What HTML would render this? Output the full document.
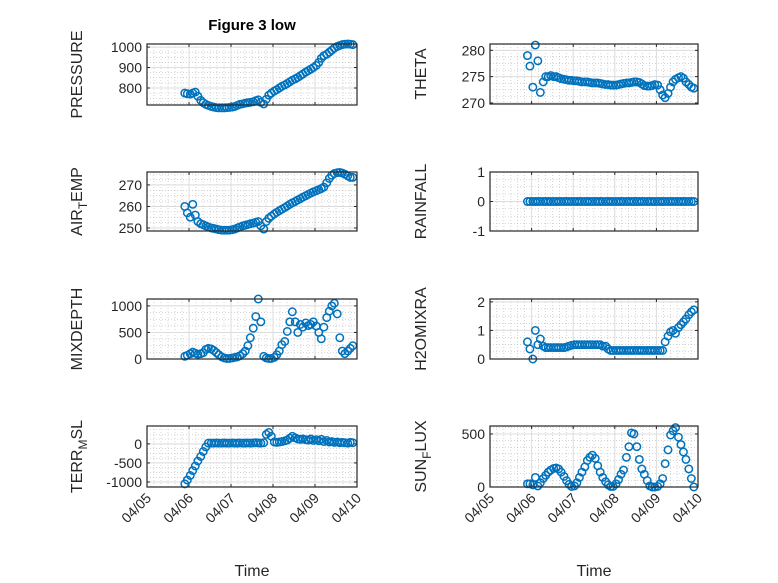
<!DOCTYPE html>
<html><head><meta charset="utf-8"><style>
html,body{margin:0;padding:0;background:#fff}
svg{display:block;font-family:"Liberation Sans","DejaVu Sans",sans-serif}
</style></head><body>
<svg id="fig" width="778" height="583" viewBox="0 0 778 583">
<rect width="778" height="583" fill="#fff"/>
<text x="252" y="30" text-anchor="middle" font-size="15" font-weight="bold" fill="#000">Figure 3 low</text>
<text x="252" y="576" text-anchor="middle" font-size="16" fill="#262626">Time</text>
<text x="594" y="576" text-anchor="middle" font-size="16" fill="#262626">Time</text>
</svg>
<script>
const times=[0.90,0.96,1.03,1.09,1.15,1.21,1.28,1.34,1.40,1.46,1.53,1.59,1.65,1.71,1.78,1.84,1.90,1.96,2.03,2.09,2.15,2.21,2.28,2.34,2.40,2.46,2.53,2.59,2.65,2.71,2.78,2.84,2.90,2.96,3.03,3.09,3.15,3.21,3.28,3.34,3.40,3.46,3.53,3.59,3.65,3.71,3.78,3.84,3.90,3.96,4.03,4.09,4.15,4.21,4.28,4.34,4.40,4.46,4.53,4.59,4.65,4.71,4.78,4.84,4.90];
const pressure=[775,772,770,775,780,760,740,728,720,715,710,707,704,703,703,703,704,705,707,710,715,720,723,726,728,730,733,738,742,730,722,745,765,775,785,792,800,808,815,822,830,838,845,852,860,868,878,885,892,900,910,925,945,958,965,975,985,995,1003,1008,1012,1014,1015,1014,1012];
const airTemp=[260,257,255,261,256,253,252,251.5,251,250.5,250,249.8,249.5,249.2,249,249,249,249,249.2,249.5,250,250.5,251,251.3,251.6,252,252.3,252.6,253,251,249.5,253,254.5,255.5,256.5,257.3,258,258.7,259.5,260.2,261,261.7,262.3,263,263.6,264.3,265,265.6,266.2,266.8,267.3,267.8,268.3,269,271,273,274.5,275.3,275.7,275.8,275.5,275,274.2,273.5,273.5];
const mixDepth=[50,70,100,130,110,90,100,120,180,200,190,160,120,80,40,20,10,10,20,30,40,60,100,150,250,400,580,800,1130,700,50,20,10,10,30,80,150,270,330,520,700,890,700,500,650,600,680,630,650,700,620,500,380,600,780,900,1000,1050,850,400,150,100,150,200,250];
const terrMsl=[-1050,-950,-830,-700,-580,-450,-330,-200,-80,20,20,20,25,20,20,25,20,20,25,20,20,25,20,20,25,20,25,30,25,20,30,250,300,200,50,40,50,60,80,100,150,200,160,130,120,130,110,100,130,90,110,80,120,60,90,50,60,40,50,30,40,30,20,40,30];
const theta=[279,277,273,281,278,272,274,275,275,275.2,275,275,274.8,274.6,274.5,274.4,274.3,274.3,274.2,274.2,274.1,274,274,274,273.9,273.8,273.8,273.8,273.7,273.6,273.5,273.5,273.4,273.4,273.4,273.5,273.6,273.7,273.8,273.8,273.9,274,274,273.9,273.6,273.3,273.2,273.2,273.3,273.5,273.4,272.5,271.5,271,271.8,273,274,274.5,274.8,275,274.7,274,273.5,273,272.8];
const rainfall=[0,0,0,0,0,0,0,0,0,0,0,0,0,0,0,0,0,0,0,0,0,0,0,0,0,0,0,0,0,0,0,0,0,0,0,0,0,0,0,0,0,0,0,0,0,0,0,0,0,0,0,0,0,0,0,0,0,0,0,0,0,0,0,0,0];
const h2oMix=[0.6,0.35,0,1.0,0.5,0.7,0.45,0.4,0.4,0.4,0.4,0.4,0.4,0.4,0.4,0.42,0.45,0.48,0.5,0.5,0.5,0.5,0.5,0.5,0.5,0.5,0.5,0.5,0.5,0.45,0.45,0.35,0.3,0.3,0.3,0.3,0.3,0.3,0.3,0.3,0.3,0.3,0.3,0.3,0.3,0.3,0.3,0.3,0.3,0.3,0.3,0.3,0.3,0.6,0.8,0.95,1.0,0.9,1.1,1.2,1.3,1.4,1.55,1.65,1.72];
const sunFlux=[30,30,20,90,10,40,80,110,140,160,175,180,170,140,100,60,25,5,10,40,90,140,190,250,280,300,270,200,140,90,50,20,5,5,30,70,120,160,280,380,510,500,380,260,170,120,60,10,0,0,5,30,80,220,350,490,530,560,470,400,330,260,170,80,0];
const xTickLabels=["04/05","04/06","04/07","04/08","04/09","04/10"];
const pressureTicks=[800,900,1000], airTicks=[250,260,270], mixTicks=[0,500,1000], terrTicks=[-1000,-500,0];
const thetaTicks=[270,275,280], rainTicks=[-1,0,1], h2oTicks=[0,1,2], sunTicks=[0,500];

const NS="http://www.w3.org/2000/svg";
const svg=document.getElementById('fig');
function mk(tag,attrs,parent){const e=document.createElementNS(NS,tag);for(const k in attrs)e.setAttribute(k,attrs[k]);(parent||svg).appendChild(e);return e;}

const panels=[
 {id:'pressure',label:['PRESSURE'],x0:147,x1:357,y0:44,y1:105,ymin:717,ymax:1015,ticks:pressureTicks,minor:25,vals:pressure},
 {id:'air-temp',label:['AIR','T','EMP'],x0:147,x1:357,y0:172,y1:231,ymin:248.6,ymax:276,ticks:airTicks,minor:2.5,vals:airTemp},
 {id:'mixdepth',label:['MIXDEPTH'],x0:147,x1:357,y0:299,y1:359,ymin:0,ymax:1130,ticks:mixTicks,minor:125,vals:mixDepth},
 {id:'terr-msl',label:['TERR','M','SL'],x0:147,x1:357,y0:426,y1:487,ymin:-1132,ymax:470,ticks:terrTicks,minor:125,vals:terrMsl},
 {id:'theta',label:['THETA'],x0:490,x1:698,y0:44,y1:104,ymin:269.8,ymax:281.2,ticks:thetaTicks,minor:1.25,vals:theta},
 {id:'rainfall',label:['RAINFALL'],x0:490,x1:698,y0:172,y1:231,ymin:-1,ymax:1,ticks:rainTicks,minor:0.25,vals:rainfall},
 {id:'h2omixra',label:['H2OMIXRA'],x0:490,x1:698,y0:299,y1:359,ymin:0,ymax:2.1,ticks:h2oTicks,minor:0.25,vals:h2oMix},
 {id:'sun-flux',label:['SUN','F','LUX'],x0:490,x1:698,y0:426,y1:487,ymin:0,ymax:575,ticks:sunTicks,minor:62.5,vals:sunFlux}
];

panels.forEach((p,pi)=>{
  const g=mk('g',{});
  
  
  const xs=t=>p.x0+(t/5)*(p.x1-p.x0);
  const ys=v=>p.y1-(v-p.ymin)/(p.ymax-p.ymin)*(p.y1-p.y0);
  mk('rect',{x:p.x0,y:p.y0,width:p.x1-p.x0,height:p.y1-p.y0,fill:'#fff'},g);
  for(let d=0;d<5;d++)for(let k=1;k<6;k++){const x=xs(d+k/6);mk('line',{x1:x,x2:x,y1:p.y0,y2:p.y1,stroke:'#b8b8b8','stroke-width':0.6,'stroke-dasharray':'1 2'},g);}
  const start=Math.ceil(p.ymin/p.minor)*p.minor;
  for(let v=start;v<=p.ymax;v+=p.minor){const y=ys(v);mk('line',{x1:p.x0,x2:p.x1,y1:y,y2:y,stroke:'#b8b8b8','stroke-width':0.6,'stroke-dasharray':'1 2'},g);}
  for(let d=1;d<5;d++){const x=xs(d);mk('line',{x1:x,x2:x,y1:p.y0,y2:p.y1,stroke:'#dcdcdc','stroke-width':1},g);}
  p.ticks.forEach(v=>{const y=ys(v);mk('line',{x1:p.x0,x2:p.x1,y1:y,y2:y,stroke:'#dcdcdc','stroke-width':1},g);
    mk('line',{x1:p.x0,x2:p.x0+3,y1:y,y2:y,stroke:'#262626'},g);mk('line',{x1:p.x1,x2:p.x1-3,y1:y,y2:y,stroke:'#262626'},g);
    const t=mk('text',{x:p.x0-5,y:y+5,'text-anchor':'end','font-size':14,fill:'#262626'},g);t.textContent=v;
    
    });
  for(let d=0;d<=5;d++){const x=xs(d);mk('line',{x1:x,x2:x,y1:p.y1,y2:p.y1-3,stroke:'#262626'},g);mk('line',{x1:x,x2:x,y1:p.y0,y2:p.y0+3,stroke:'#262626'},g);}
  const pts=mk('g',{fill:'none',stroke:'#0072BD','stroke-width':1.5},g);
  
  
  times.forEach((t,i)=>{const c=mk('circle',{cx:xs(t),cy:ys(p.vals[i]),r:3.7},pts);
    
    });
  mk('rect',{x:p.x0,y:p.y0,width:p.x1-p.x0,height:p.y1-p.y0,fill:'none',stroke:'#262626','stroke-width':1.2},g);
  const lx=p.x0<300?82:426, ly=(p.y0+p.y1)/2;
  const lt=mk('text',{x:0,y:0,'text-anchor':'middle','font-size':16,fill:'#262626',transform:`translate(${lx},${ly}) rotate(-90)`},g);
  
  
  if(p.label.length===1){lt.textContent=p.label[0];}
  else{const a=mk('tspan',{},lt);a.textContent=p.label[0];const b=mk('tspan',{dy:5,'font-size':12},lt);b.textContent=p.label[1];const c=mk('tspan',{dy:-5},lt);c.textContent=p.label[2];}
  if(pi===3||pi===7){xTickLabels.forEach((s,d)=>{const x=xs(d);const t=mk('text',{x:0,y:0,'text-anchor':'end','font-size':14,fill:'#262626',transform:`translate(${x+5},${p.y1+12}) rotate(-45)`},g);t.textContent=s;
    
    });}
});
</script>
</body></html>
